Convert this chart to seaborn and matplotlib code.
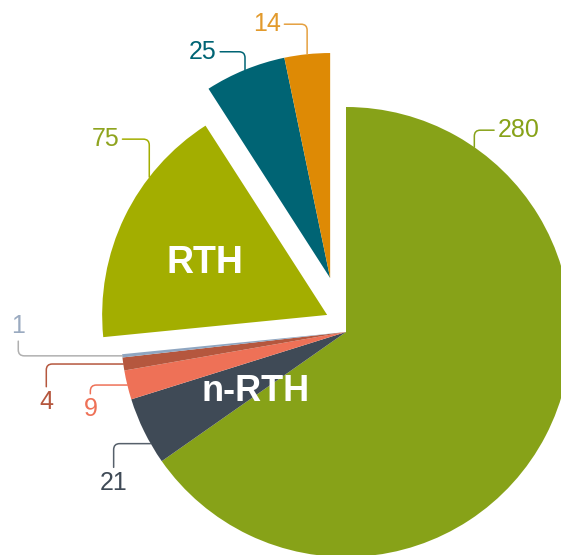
import numpy as np
import matplotlib.pyplot as plt
import seaborn as sns

# slice values, clockwise from 12 o'clock
values = [280, 21, 9, 4, 1, 75, 25, 14]
labels = ["280", "21", "9", "4", "1", "75", "25", "14"]
colors = ["#87a218", "#3f4a56", "#ee7157", "#b5573e", "#8fa6c1",
          "#a3ae00", "#006474", "#de8a05"]
label_colors = ["#87a218", "#3f4a56", "#ee7157", "#b5573e", "#9aaac0",
                "#8fa41f", "#006474", "#e29a2c"]
line_colors = ["#87a218", "#56606b", "#ee7157", "#b5573e", "#b0b0b0",
               "#a3ae00", "#006474", "#e5a040"]
group_names = ["n-RTH", "RTH"]

sns.set_theme(style="white")
plt.rcParams["font.family"] = ["Liberation Sans Narrow", "Liberation Sans", "DejaVu Sans"]

fig = plt.figure(figsize=(5.61, 5.55), dpi=100)
ax = fig.add_axes([0, 0, 1, 1])

wedges, _ = ax.pie(values, colors=colors, startangle=90, counterclock=False,
                   radius=1, wedgeprops=dict(linewidth=0, antialiased=True))

total = float(sum(values))
cum = np.concatenate([[0], np.cumsum(values)])


def cw_to_math(frac):
    # fraction of the circle, clockwise from the top -> math angle in degrees
    return 90 - frac * 360


def unit(deg):
    r = np.deg2rad(deg)
    return np.array([np.cos(r), np.sin(r)])


# explode: RTH group out along its mid angle, the 25/14 pair further along theirs
rth_mid = cw_to_math((cum[5] + cum[8]) / 2 / total)
pair_mid = cw_to_math((cum[6] + cum[8]) / 2 / total)
offsets = [np.zeros(2)] * 5 + [unit(rth_mid) * 0.113] + [unit(pair_mid) * 0.25] * 2
for w, off in zip(wedges, offsets):
    w.set_center(tuple(off))

# leader-line anchors (fraction inside each wedge) and text offsets in pixels
anchor_frac = [0.148, 0.3, 0.5, 0.5, 0.5, 0.69, 0.5, 0.5]
text_off = [(44, 17), (-37, -39), (-37, -24), (-77, -38), (-104, 30),
            (-44, 38), (-42, 18), (-40, 30)]
conn = ["angle,angleA=0,angleB=90,rad=6", "angle,angleA=90,angleB=0,rad=6",
        "angle,angleA=90,angleB=0,rad=6", "angle,angleA=90,angleB=0,rad=6",
        "angle,angleA=90,angleB=0,rad=6", "angle,angleA=0,angleB=90,rad=6",
        "angle,angleA=0,angleB=90,rad=6", "angle,angleA=0,angleB=90,rad=6"]

for i, w in enumerate(wedges):
    frac = (cum[i] + values[i] * anchor_frac[i]) / total
    xy = np.array(w.center) + unit(cw_to_math(frac)) * w.r
    ax.annotate(labels[i], xy=xy, xytext=text_off[i], textcoords="offset pixels",
                ha="center", va="center", fontsize=18, color=label_colors[i],
                arrowprops=dict(arrowstyle="-", color=line_colors[i], lw=1.1,
                                connectionstyle=conn[i], shrinkA=0, shrinkB=0))

# group names inside the pie
nrth_pos = unit(cw_to_math(236.8 / 360)) * 0.48
rth_pos = np.array(wedges[5].center) + unit(cw_to_math(293 / 360)) * 0.59
ax.text(*nrth_pos, group_names[0], color="white", fontsize=26, fontweight="bold",
        ha="center", va="center")
ax.text(*rth_pos, group_names[1], color="white", fontsize=27, fontweight="bold",
        ha="center", va="center")

# crop the view like the reference (pie runs off the right and bottom edges)
ax.set_xlim(-346 / 225, (561 - 346) / 225)
ax.set_ylim(-(555 - 332) / 225, 332 / 225)
ax.set_aspect("auto")
ax.axis("off")

fig.savefig("out.png", dpi=100, facecolor="white")
